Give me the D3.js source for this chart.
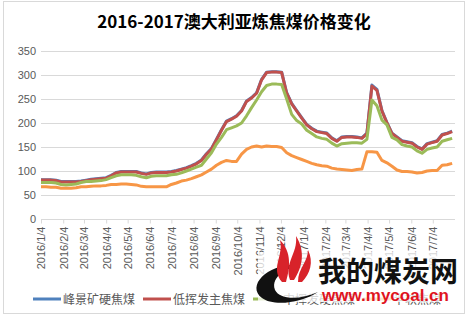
<!DOCTYPE html>
<html>
<head>
<meta charset="utf-8">
<script src="https://cdn.jsdelivr.net/npm/d3@7"></script>
<style>
  body { margin: 0; background: #fff; }
  text { font-family: "Noto Sans CJK SC", "Microsoft YaHei", sans-serif; }
</style>
</head>
<body>
<div id="chart"></div>
<script>
// weekly prices, first week 2016/1/4
const startDate = new Date(2016, 0, 4);
const seriesNames = ["峰景矿硬焦煤", "低挥发主焦煤", "中挥发硬焦煤", "半软焦煤"];
const seriesColors = ["#4F81BD", "#C0504D", "#9BBB59", "#F79646"];

const peakDowns = [82,82,82,81, 78,78,78,78, 79,81,83,84, 85,86, 91,97, 99,99,99,99, 96,94, 97,98,98,98,
  99,101, 104,107, 111,116, 123,136, 147,166, 186,204, 209,215, 226,246, 253,263, 291,306, 307,307,306,
  263,241,226,211,197,189,183,181,179,169,163, 171,172,172,171,169, 179,279,270,226,201,179,
  171,163,161,159,151,146, 157,160,163,176,179,183];
const lowVolHard = [81,81,81,80, 77,77,77,77, 78,80,82,83, 84,85, 90,96, 98,98,98,98, 95,93, 96,97,97,97,
  98,100, 103,106, 110,115, 122,135, 146,165, 185,203, 208,214, 225,245, 252,262, 290,305, 306,306,305,
  262,240,225,210,196,188,182,180,178,168,162, 170,171,171,170,168, 178,277,268,225,200,178,
  170,162,160,158,150,145, 156,159,162,175,178,182];
const midVolHard = [76,76,76,75, 72,71,72,73, 76,78,78,79, 80,82, 86,90, 92,92,92,91, 88,86, 89,90,90,90,
  92,93, 96,100, 104,108, 112,125, 138,156, 170,186, 190,194, 200,215, 232,248, 265,278, 281,281,280,
  250,218,205,198,185,178,171,168,166,158,152, 157,158,159,159,158, 166,248,236,206,196,170,
  165,155,152,150,142,137, 145,148,150,162,165,168];
const semiSoft = [67,67,66,66, 64,64,64,65, 67,67,68,69, 69,70, 72,72, 73,73,72,71, 68,67, 67,67,67,67,
  72,75, 79,81, 84,88, 92,98, 104,112, 118,122, 120,120, 135,145, 150,152, 150,152, 151,151,149,
  138,132,128,124,120,116,113,111,110,106,104, 103,102,101,103,104, 140,140,139,122,117,110,
  102,99,99,98,96,97, 100,101,101,112,113,116];

const yTicks = [0, 50, 100, 150, 200, 250, 300, 350];
const monthTicks = d3.range(19).map(m => new Date(2016, m, 4));

const W = 467, H = 316;
const margin = { left: 41, right: 12, top: 51, bottom: 97 };

const svg = d3.select("#chart").append("svg")
  .attr("width", W).attr("height", H);

svg.append("rect").attr("x", 3.5).attr("y", 1.5).attr("width", W - 6).attr("height", H - 4)
  .attr("fill", "#fff").attr("stroke", "#D9D9D9");

svg.append("text").attr("x", 234).attr("y", 28).attr("text-anchor", "middle")
  .attr("font-size", 17).attr("font-weight", "bold").attr("fill", "#000")
  .text("2016-2017澳大利亚炼焦煤价格变化");

const dates = peakDowns.map((d, i) => d3.timeDay.offset(startDate, i * 7));
const x = d3.scaleTime()
  .domain([startDate, new Date(2017, 7, 4)])
  .range([margin.left, W - margin.right]);
const y = d3.scaleLinear().domain([0, 350]).range([H - margin.bottom - 0, margin.top]);

// gridlines
svg.append("g").selectAll("line").data(yTicks.filter(t => t > 0)).enter().append("line")
  .attr("x1", margin.left).attr("x2", W - margin.right)
  .attr("y1", d => y(d) + 0.5).attr("y2", d => y(d) + 0.5)
  .attr("stroke", "#D9D9D9");

const yAxis = svg.append("g").attr("transform", `translate(${margin.left},0)`)
  .call(d3.axisLeft(y).tickValues(yTicks).tickSize(0).tickPadding(5));
yAxis.select(".domain").remove();
yAxis.selectAll("text").attr("font-size", 11).attr("fill", "#595959")
  .style("font-family", "Liberation Sans, Arial, sans-serif");

const xAxis = svg.append("g").attr("transform", `translate(0,${y(0) + 0.5})`)
  .call(d3.axisBottom(x).tickValues(monthTicks).tickSize(4)
    .tickFormat(d => `${d.getFullYear()}/${d.getMonth() + 1}/${d.getDate()}`));
xAxis.select(".domain").attr("stroke", "#D9D9D9").attr("d", `M${margin.left},0H${W - margin.right}`);
xAxis.selectAll(".tick line").attr("stroke", "#D9D9D9");
xAxis.selectAll("text")
  .attr("font-size", 11).attr("fill", "#595959")
  .style("font-family", "Liberation Sans, Arial, sans-serif")
  .attr("text-anchor", "end")
  .attr("transform", "rotate(-90)")
  .attr("x", -7).attr("y", 0).attr("dy", "0.35em");

const line = d3.line().x((d, i) => x(dates[i])).y(d => y(d));
[peakDowns, lowVolHard, midVolHard, semiSoft].forEach((s, k) => {
  svg.append("path").datum(s)
    .attr("fill", "none").attr("stroke", seriesColors[k])
    .attr("stroke-width", 3).attr("stroke-linejoin", "round")
    .attr("d", line);
});

// legend
const legendX = [33, 143, 253, 363];
const lg = svg.append("g");
seriesNames.forEach((n, k) => {
  lg.append("line").attr("x1", legendX[k]).attr("x2", legendX[k] + 28)
    .attr("y1", 299).attr("y2", 299)
    .attr("stroke", seriesColors[k]).attr("stroke-width", 3);
  lg.append("text").attr("x", legendX[k] + 30).attr("y", 303.5)
    .attr("font-size", 12).attr("fill", "#595959").text(n);
});

// watermark
const wm = svg.append("g");
wm.append("rect").attr("x", 258).attr("y", 252).attr("width", 200).attr("height", 50)
  .attr("fill", "#fff").attr("opacity", 0.75);
wm.append("path")
  .attr("d", "M262,298 C245,285 270,262 300,265 C290,268 270,275 275,290 C280,300 300,300 318,292 C300,304 272,306 262,298 Z")
  .attr("fill", "#111");
[["M282,282 C270,268 284,256 280,240 C292,252 290,268 286,282 Z"],
 ["M290,280 C284,262 298,254 296,236 C306,252 302,268 294,280 Z"],
 ["M298,282 C298,268 308,262 308,250 C314,262 310,274 302,282 Z"]].forEach(p => {
  wm.append("path").attr("d", p[0]).attr("fill", "#D8232A");
});
wm.append("text").attr("x", 318).attr("y", 282).attr("font-size", 28).attr("font-weight", "bold")
  .attr("fill", "#111").text("我的煤炭网");
wm.append("text").attr("x", 322).attr("y", 301).attr("font-size", 17).attr("font-weight", "bold")
  .attr("fill", "#E0141E").style("font-family", "Liberation Sans, Arial, sans-serif")
  .text("www.mycoal.cn");
</script>
</body>
</html>
